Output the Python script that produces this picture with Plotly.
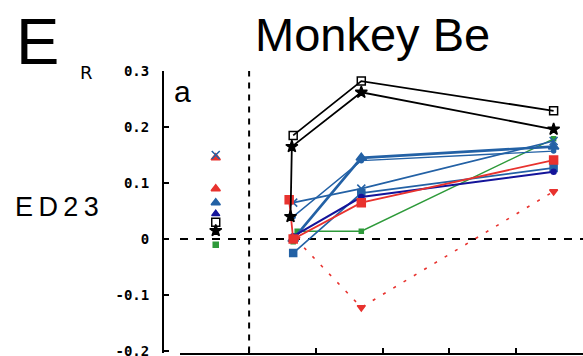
import plotly.graph_objects as go

# ---- data ----
pre_x = -0.5
post_x = [0.66, 1.68, 4.56]

black_sq_pre = 0.03
black_sq = [0.185, 0.282, 0.229]

black_star_pre = 0.015
black_star_x = [0.62, 0.64, 1.68, 4.56]
black_star = [0.04, 0.165, 0.262, 0.196]

blue_tri_pre = 0.065
blue_tri = [0.0, 0.145, 0.165]

blue_x_pre = 0.15
blue_x = [0.065, 0.09, 0.175]

blue_dot = [0.04, 0.14, 0.157]

blue_sq = [-0.025, 0.082, 0.127]

navy_pre = 0.045
navy = [0.005, 0.075, 0.12]

red_pre = 0.09
red_x = [0.6, 0.66, 1.68, 4.56]
red = [0.07, 0.0, 0.065, 0.141]

red_dash_pre = 0.145
red_dash_x = [0.7, 1.68, 4.56]
red_dash = [0.0, -0.122, 0.085]

green_pre = -0.01
green_x = [0.66, 0.72, 1.68, 4.56]
green = [-0.005, 0.014, 0.014, 0.179]

y_ticks = [-0.2, -0.1, 0, 0.1, 0.2, 0.3]
y_ticktext = ["-0.2", "-0.1", "0", "0.1", "0.2", "0.3"]
x_ticks = [0, 1, 2, 3, 4, 5]

BLACK = "#000000"
BLUE = "#2361a5"
NAVY = "#14149a"
RED = "#e8322e"
GREEN = "#2e9a3a"

fig = go.Figure()

# reference dashed lines
fig.add_trace(go.Scatter(x=[0, 0], y=[-0.2025, 0.3], mode="lines",
                         line=dict(color=BLACK, width=2, dash="6px,6px"), showlegend=False))
fig.add_trace(go.Scatter(x=[-1.035, 5.0], y=[0, 0], mode="lines",
                         line=dict(color=BLACK, width=2, dash="8px,8px"), showlegend=False))

def series(xs, ys, color, symbol, size=7, width=1.6, dash="solid"):
    fig.add_trace(go.Scatter(x=xs, y=ys, mode="lines+markers",
                             line=dict(color=color, width=width, dash=dash),
                             marker=dict(symbol=symbol, size=size, color=color,
                                         line=dict(color=color, width=1.5)),
                             showlegend=False))

def pre(y, color, symbol, size=7):
    fig.add_trace(go.Scatter(x=[pre_x], y=[y], mode="markers",
                             marker=dict(symbol=symbol, size=size, color=color,
                                         line=dict(color=color, width=1.5)),
                             showlegend=False))

series(green_x, green, GREEN, "square", size=4, width=1.4)
series(red_dash_x, red_dash, RED, "triangle-down", size=7, width=1.6, dash="3px,9px")
series(post_x, blue_sq, BLUE, "square", size=7, width=1.6)
series(post_x, blue_dot, BLUE, "circle", size=4, width=1.4)
series(post_x, blue_x, BLUE, "x-thin", size=8, width=1.6)
series(post_x, blue_tri, BLUE, "triangle-up", size=9, width=2.6)
series(post_x, navy, NAVY, "circle", size=5, width=2)
series(red_x, red, RED, "square", size=8, width=1.8)
series(black_star_x, black_star, BLACK, "star", size=9, width=1.8)
series(post_x, black_sq, BLACK, "square-open", size=8, width=1.8)

pre(green_pre, GREEN, "square", size=5)
pre(black_star_pre, BLACK, "star", size=9)
pre(black_sq_pre, BLACK, "square-open", size=8)
pre(navy_pre, NAVY, "triangle-up", size=7)
pre(blue_tri_pre, BLUE, "triangle-up", size=8)
pre(red_pre, RED, "triangle-up", size=8)
pre(red_dash_pre, RED, "triangle-up", size=8)
pre(blue_x_pre, BLUE, "x-thin", size=8)

W, H = 583, 356
fig.update_layout(
    width=W, height=H,
    margin=dict(l=0, r=0, t=0, b=0, autoexpand=False),
    paper_bgcolor="white", plot_bgcolor="white",
    xaxis=dict(domain=[180 / W, 1.0], range=[-1.035, 5.0],
               showline=True, linecolor=BLACK, linewidth=2,
               ticks="inside", ticklen=5, tickwidth=2, tickcolor=BLACK,
               tickvals=x_ticks, showticklabels=False, automargin=False,
               showgrid=False, zeroline=False),
    yaxis=dict(anchor="free", position=163 / W,
               domain=[(H - 352.5) / H, (H - 71) / H], range=[-0.2025, 0.3],
               showline=True, linecolor=BLACK, linewidth=2,
               ticks="inside", ticklen=5, tickwidth=2, tickcolor=BLACK,
               tickvals=y_ticks, ticktext=y_ticktext, ticklabelstandoff=10,
               ticklabeloverflow="allow", automargin=False,
               tickfont=dict(family="DejaVu Sans Mono", size=14, color=BLACK, weight="bold"),
               showgrid=False, zeroline=False),
    annotations=[
        dict(text="Monkey Be", x=372 / W, y=(H - 34) / H, xref="paper", yref="paper",
             showarrow=False, font=dict(family="Liberation Sans", size=47, color=BLACK),
             xanchor="center", yanchor="middle"),
        dict(text="E", x=37 / W, y=(H - 41) / H, xref="paper", yref="paper",
             showarrow=False, font=dict(family="Liberation Sans", size=65, color=BLACK),
             xanchor="center", yanchor="middle"),
        dict(text="R", x=86 / W, y=(H - 72) / H, xref="paper", yref="paper",
             showarrow=False, font=dict(family="DejaVu Sans", size=18, color=BLACK),
             xanchor="center", yanchor="middle"),
        dict(text="a", x=182 / W, y=(H - 92) / H, xref="paper", yref="paper",
             showarrow=False, font=dict(family="Liberation Sans", size=30, color=BLACK),
             xanchor="center", yanchor="middle"),
        dict(text="E\u2009D\u20092\u20093", x=57 / W, y=(H - 207) / H, xref="paper", yref="paper",
             showarrow=False, font=dict(family="Liberation Sans", size=27, color=BLACK),
             xanchor="center", yanchor="middle"),
    ],
)

fig.write_html("out.html", config={"displayModeBar": False},
               post_script="document.body.style.margin='0';document.body.style.overflow='hidden';")
